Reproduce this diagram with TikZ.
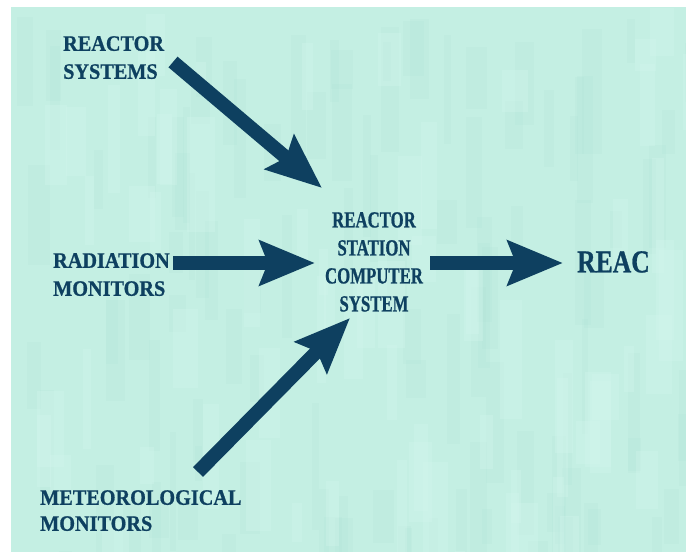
\documentclass[tikz,border=0pt]{standalone}
\usepackage{fontspec}
\usepackage{xcolor}
\usetikzlibrary{arrows.meta}
\setmainfont{Liberation Serif}
\newfontfamily\labelserif{Liberation Serif}[FakeStretch=0.92,FakeBold=0.8]
\newfontfamily\narrowserif{Liberation Serif}[FakeStretch=0.73,FakeBold=0.8]
\newfontfamily\widenarrowserif{Liberation Serif}[FakeStretch=0.8,FakeBold=0.8]

\definecolor{panel}{RGB}{196,239,227}
\definecolor{paneldark}{RGB}{178,227,215}
\definecolor{panellight}{RGB}{212,247,238}
\definecolor{navy}{RGB}{14,64,96}

\begin{document}
\begin{tikzpicture}[x=1pt,y=-1pt,
		label/.style={inner sep=0pt,text=navy,align=left,font=\labelserif\bfseries\fontsize{22}{28}\selectfont},
		flow/.style={navy,line width=14pt,-{Stealth[length=55pt,width=44pt,inset=8pt]}}]
		%Background
			\fill[white] (0,0) rectangle (686,552);
			\fill[panel] (11,7) rectangle (686,552);
		%Blocks
			\begin{scope}
				\clip (11,7) rectangle (686,552);
				\pgfmathsetseed{17}
				\foreach \k in {1,...,110}
				{
					\pgfmathsetmacro\bx{11+675*rnd}
					\pgfmathsetmacro\by{7+545*rnd}
					\pgfmathsetmacro\bw{6+16*rnd}
					\pgfmathsetmacro\bh{30+100*rnd}
					\fill[paneldark,opacity=.22] (\bx,\by) rectangle ++(\bw,\bh);
				}
				\foreach \k in {1,...,70}
				{
					\pgfmathsetmacro\bx{11+675*rnd}
					\pgfmathsetmacro\by{7+545*rnd}
					\pgfmathsetmacro\bw{8+20*rnd}
					\pgfmathsetmacro\bh{30+90*rnd}
					\fill[panellight,opacity=.3] (\bx,\by) rectangle ++(\bw,\bh);
				}
			\end{scope}
		%Sources
			\path node (sys) [label,anchor=north west] at (63,36) {REACTOR\\SYSTEMS};
			\path node (rad) [label,anchor=north west] at (53,253) {RADIATION\\MONITORS};
			\path node (met) [label,anchor=north west,font=\labelserif\bfseries\fontsize{22}{26}\selectfont] at (40,490) {METEOROLOGICAL\\MONITORS};
		%Station computer
			\path node (rscs) [label,align=center,anchor=north,font=\narrowserif\bfseries\fontsize{23}{28}\selectfont] at (374,212) {REACTOR\\STATION\\COMPUTER\\SYSTEM};
			\path node (reac) [label,anchor=north west,font=\widenarrowserif\bfseries\fontsize{32}{32}\selectfont] at (577,251) {REAC};
		%Arrow ends
			\coordinate (sys-out) at (173,62);
			\coordinate (rad-out) at (173,263);
			\coordinate (met-out) at (198,472);
			\coordinate (rscs-in1) at (322,188);
			\coordinate (rscs-in2) at (315,263);
			\coordinate (rscs-in3) at (350,318);
			\coordinate (rscs-out) at (430,263);
			\coordinate (reac-in) at (563,263);
		%Arrows
			\draw[flow] (sys-out) -- (rscs-in1);
			\draw[flow] (rad-out) -- (rscs-in2);
			\draw[flow] (met-out) -- (rscs-in3);
			\draw[flow] (rscs-out) -- (reac-in);
	\end{tikzpicture}
\end{document}
